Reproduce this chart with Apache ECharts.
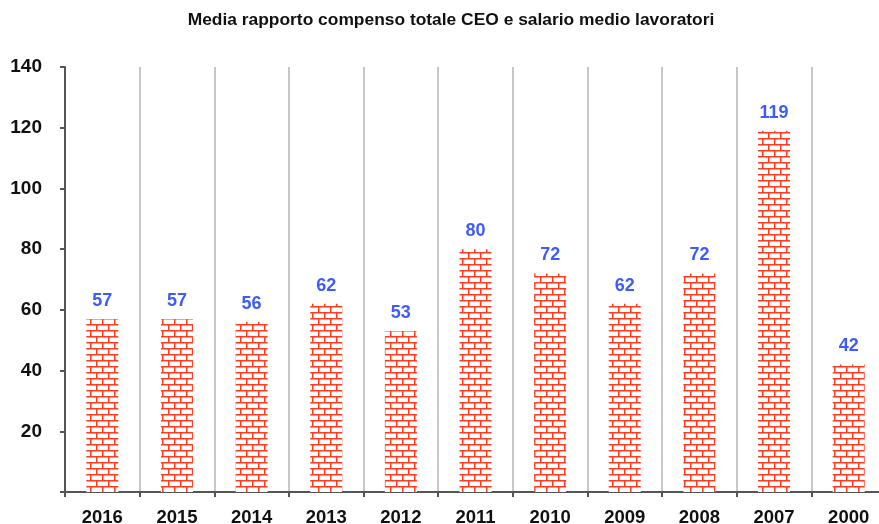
<!DOCTYPE html>
<html><head><meta charset="utf-8">
<script src="https://cdn.jsdelivr.net/npm/echarts@6/dist/echarts.min.js"></script>
<style>html,body{margin:0;padding:0;background:#fff}#c{width:879px;height:524px}</style>
</head><body><div id="c"></div>
<script>
const titleText = 'Media rapporto compenso totale CEO e salario medio lavoratori';
const categories = ['2016','2015','2014','2013','2012','2011','2010','2009','2008','2007','2000'];
const values = [57,57,56,62,53,80,72,62,72,119,42];

// brick pattern tile
const tile = document.createElement('canvas');
tile.width = 12; tile.height = 12;
const g = tile.getContext('2d');
g.fillStyle = '#ffffff'; g.fillRect(0,0,12,12);
g.strokeStyle = '#ff3b20'; g.lineWidth = 1.5;
g.beginPath();
g.moveTo(0,0.75); g.lineTo(12,0.75);
g.moveTo(0,6.75); g.lineTo(12,6.75);
g.moveTo(0.75,0); g.lineTo(0.75,6.75);
g.moveTo(6.75,6.75); g.lineTo(6.75,12);
g.stroke();

const chart = echarts.init(document.getElementById('c'));
chart.setOption({
  animation:false,
  backgroundColor:'#ffffff',
  title:{text:titleText,left:446,textAlign:'center',top:7,
    textStyle:{fontFamily:'Liberation Sans, Arial',fontSize:17.4,fontWeight:'bold',color:'#111'}},
  grid:{left:65,top:67,width:821,height:425,containLabel:false,outerBoundsMode:'none'},
  xAxis:{type:'category',data:categories,
    axisLine:{lineStyle:{color:'#555',width:2}},
    axisTick:{show:true,length:5,lineStyle:{color:'#555',width:2}},
    splitLine:{show:true,lineStyle:{color:'#c8c8c8',width:2}},
    axisLabel:{margin:16,fontFamily:'Liberation Sans, Arial',fontSize:18.5,fontWeight:'bold',color:'#111'}},
  yAxis:{type:'value',min:0,max:140,interval:20,
    axisLine:{show:true,lineStyle:{color:'#555',width:2}},
    axisTick:{show:true,length:5,lineStyle:{color:'#555',width:2}},
    splitLine:{show:false},
    axisLabel:{margin:23,fontFamily:'Liberation Sans, Arial',fontSize:19,fontWeight:'bold',color:'#111',
      formatter:v=>v===0?'':String(v)}},
  series:[{type:'bar',data:values,barWidth:32,
    itemStyle:{color:{image:tile,repeat:'repeat'}},
    label:{show:true,position:'top',distance:9,fontFamily:'Liberation Sans, Arial',fontSize:18,fontWeight:'bold',color:'#3d5cff'}}]
});
</script></body></html>
